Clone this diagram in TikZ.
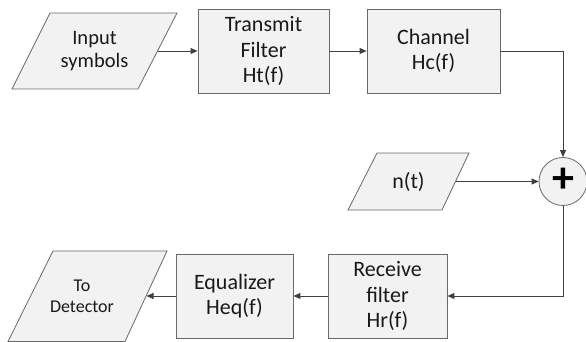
\documentclass[tikz,border=0pt]{standalone}
\usepackage{fontspec}
\setmainfont{Carlito}
\usetikzlibrary{arrows.meta,calc}
\definecolor{boxfill}{RGB}{242,242,242}
\definecolor{boxline}{RGB}{105,105,105}
\definecolor{wire}{RGB}{64,64,64}
\begin{document}
\begin{tikzpicture}[x=1pt,y=-1pt,
  blk/.style={draw=boxline, fill=boxfill, line width=0.8pt},
  rectblk/.style={blk, rectangle, inner sep=0pt, align=center,
    font=\fontsize{22}{25.5}\selectfont, text=black!90},
  lbl/.style={align=center, inner sep=0pt, font=\fontsize{22}{25.5}\selectfont, text=black!90},
  wirearrow/.style={draw=wire, line width=0.9pt, -{Triangle[length=7pt,width=6pt]}}]
\useasboundingbox (0,0) rectangle (586,342);

% parallelogram: Input symbols
\draw[blk] (12,89) -- (138,89) -- (177,13) -- (50,13) -- cycle;
\node[lbl, font=\fontsize{20.5}{23.5}\selectfont] (inp) at (94.5,51) {Input\\symbols};
\coordinate (inpR) at (158,51);

% blocks
\node[rectblk, minimum width=131pt, minimum height=84pt] (tx) at (263.5,51) {Transmit\\Filter\\Ht(f)};
\node[rectblk, minimum width=133pt, minimum height=84pt] (ch) at (433.5,51) {Channel\\Hc(f)};

% noise parallelogram
\draw[blk] (348,210) -- (442,210) -- (469,153) -- (377,153) -- cycle;
\node[lbl] (nt) at (408.5,181.5) {n(t)};
\coordinate (ntR) at (456,181.5);

% summing junction
\node[blk, circle, minimum size=48pt, inner sep=0pt] (sum) at (563,181.5) {};
\node[inner sep=0pt, font=\fontsize{44}{44}\selectfont\bfseries] (plus) at (563,180) {+};

% lower blocks
\node[rectblk, minimum width=119pt, minimum height=84pt] (rx) at (387.5,296) {Receive\\filter\\Hr(f)};
\node[rectblk, minimum width=117pt, minimum height=84pt] (eq) at (234.5,296) {Equalizer\\Heq(f)};

% To Detector parallelogram
\draw[blk] (8,341.5) -- (125,341.5) -- (167,251) -- (53,251) -- cycle;
\node[lbl, font=\fontsize{18}{21}\selectfont] (det) at (82,296.5) {To\\Detector};
\coordinate (detR) at (146.5,296);

% connectors
\draw[wirearrow] (inpR) -- (tx.west);
\draw[wirearrow] (tx.east) -- (ch.west);
\draw[wirearrow] (ch.east) -| (sum.north);
\draw[wirearrow] (ntR) -- (sum.west);
\draw[wirearrow] (sum.south) |- (rx.east);
\draw[wirearrow] (rx.west) -- (eq.east);
\draw[wirearrow] (eq.west) -- (detR);
\end{tikzpicture}
\end{document}
